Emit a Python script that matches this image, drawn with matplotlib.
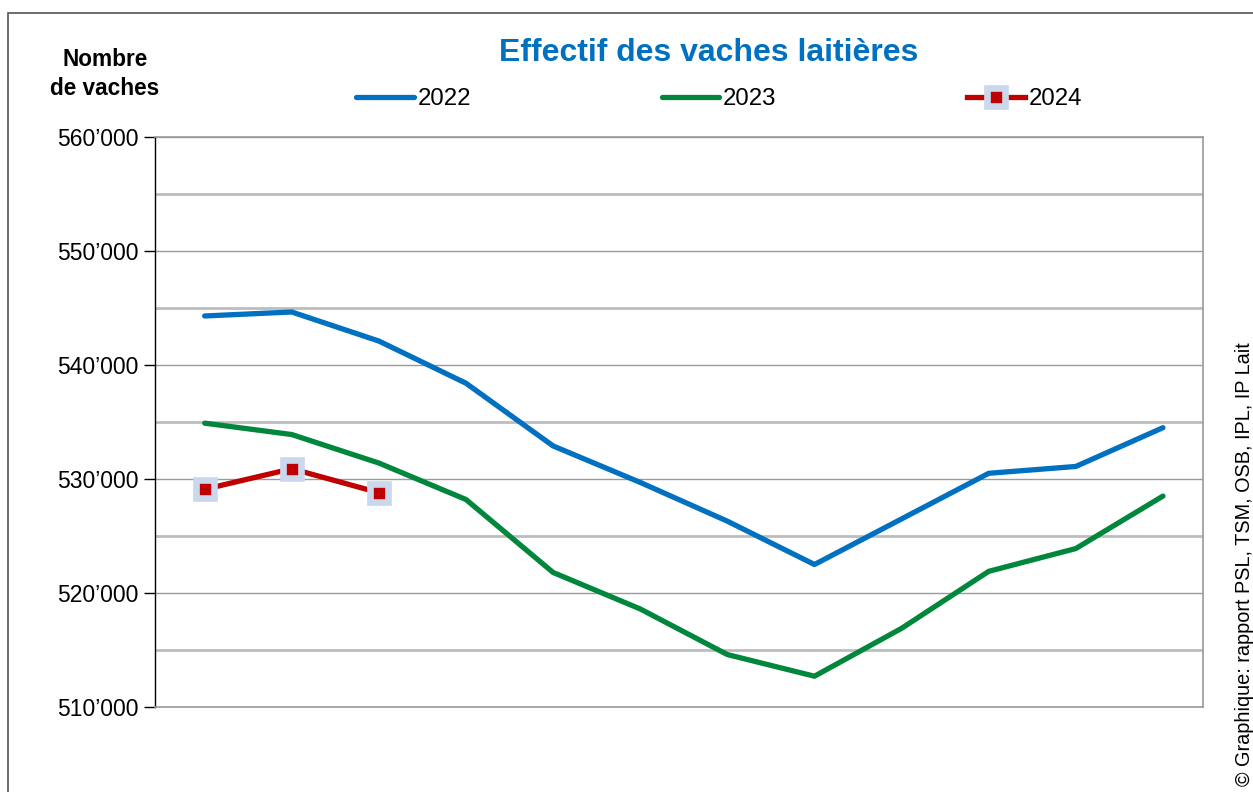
import matplotlib
matplotlib.use('Agg')
import matplotlib.pyplot as plt
from matplotlib.ticker import MultipleLocator, FuncFormatter
from matplotlib.patches import Rectangle
import numpy as np

plt.rcParams['font.family'] = ['Liberation Sans', 'DejaVu Sans']

# monthly dairy cow numbers (Jan..Dec)
months = ['Jan', 'Feb', 'Mar', 'Apr', 'May', 'Jun', 'Jul', 'Aug', 'Sep', 'Oct', 'Nov', 'Dec']
cows_2022 = [544300, 544650, 542100, 538400, 532900, 529700, 526300, 522500, 526500, 530500, 531100, 534500]
cows_2023 = [534900, 533900, 531400, 528200, 521800, 518600, 514600, 512700, 516900, 521900, 523900, 528500]
cows_2024 = [529100, 530900, 528800]

blue = '#0070C0'
green = '#00873C'
red = '#C00000'

fig = plt.figure(figsize=(12.53, 7.92), dpi=100)
ax = fig.add_axes([155/1253, 1 - 707/792, (1203-155)/1253, (707-137)/792])

x = np.arange(len(months))
ax.plot(x, cows_2022, color=blue, lw=3.8, label='2022', solid_capstyle='round')
ax.plot(x, cows_2023, color=green, lw=3.8, label='2023', solid_capstyle='round')
ax.plot(x[:len(cows_2024)], cows_2024, color=red, lw=3.8, label='2024',
        marker='s', markersize=12.5, markerfacecolor=red,
        markeredgecolor='#C9D8EC', markeredgewidth=4.8)

ax.set_xlim(-0.57, 11.46)
ax.set_ylim(510000, 560000)
ax.set_xticks([])
ax.yaxis.set_major_locator(MultipleLocator(10000))
ax.yaxis.set_minor_locator(MultipleLocator(5000))
ax.yaxis.set_major_formatter(FuncFormatter(lambda v, p: f"{v:,.0f}".replace(',', '\u2019')))
ax.tick_params(axis='y', which='major', length=8, width=1, labelsize=16.5, pad=4, colors='black')
ax.tick_params(axis='y', which='minor', length=0)
ax.grid(True, axis='y', which='major', color='#9a9a9a', lw=1)
ax.grid(True, axis='y', which='minor', color='#bdbdbd', lw=2)
ax.set_axisbelow(True)
for s in ['top', 'right', 'bottom']:
    ax.spines[s].set_color('#9a9a9a')
    ax.spines[s].set_linewidth(1.2)
ax.spines['left'].set_color('black')
ax.spines['left'].set_linewidth(1)

fig.text(709/1253, 1 - 53/792, 'Effectif des vaches laitières', color=blue,
         fontsize=23, fontweight='bold', ha='center', va='center')
fig.text(105/1253, 1 - 74/792, 'Nombre\nde vaches', fontsize=16.3, fontweight='bold',
         ha='center', va='center', linespacing=1.3)

leg = ax.legend(ncol=3, loc='center left', bbox_to_anchor=(356/1253, 1 - 99/792),
                bbox_transform=fig.transFigure, frameon=False, fontsize=17.3,
                handlelength=2.4, handletextpad=0.15, columnspacing=7.95,
                borderpad=0, borderaxespad=0)

fig.text(1244/1253, 6/792, '© Graphique: rapport PSL, TSM, OSB, IPL, IP Lait',
         rotation=90, fontsize=14.3, ha='center', va='bottom')

fig.patches.append(Rectangle((8/1253, -0.1), 1.2, 1 - 13/792 + 0.1,
                             transform=fig.transFigure, fill=False,
                             edgecolor='#555555', lw=1.2))

fig.savefig('out.png', dpi=100)
